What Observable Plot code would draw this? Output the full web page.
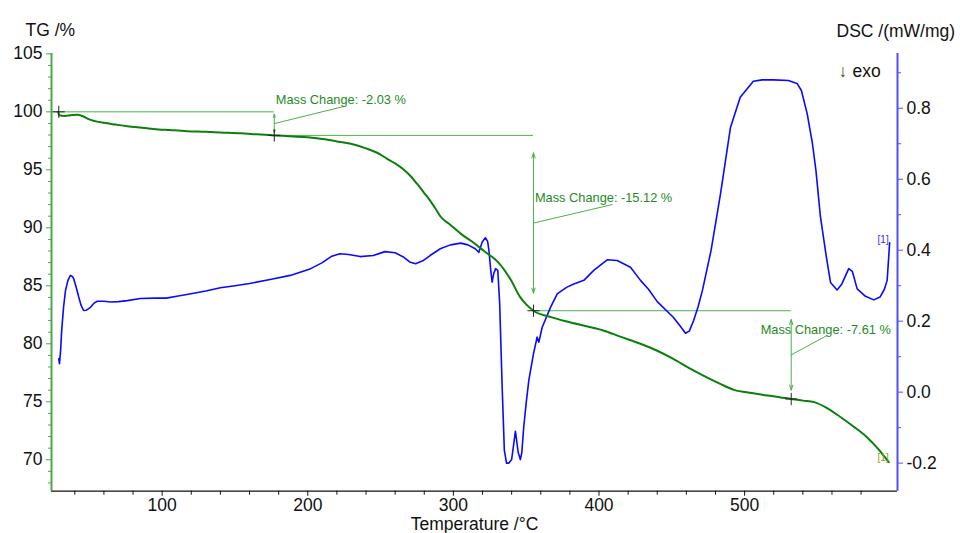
<!DOCTYPE html>
<html>
<head>
<meta charset="utf-8">
<script src="https://cdn.jsdelivr.net/npm/d3@7"></script>
<script src="https://cdn.jsdelivr.net/npm/@observablehq/plot@0.6"></script>
<style>
  html, body { margin: 0; padding: 0; background: #fff; }
  #chart svg { display: block; }
</style>
</head>
<body>
<div id="chart"></div>
<script>
// ---------- DATA ----------
// TG curve (temperature °C, mass %)
const tgT = [28.5, 29.5, 33, 38, 42, 46, 49, 54, 60, 68, 76, 85, 94, 105, 117, 130, 140, 154, 165, 177, 190, 200, 210, 220, 229.6, 240, 248, 254.5, 260, 266, 271, 275, 280, 284, 288, 291, 298, 305, 313, 321, 331, 339.5, 346, 350, 355, 367, 380, 403, 415, 428.5, 440, 451, 462, 474, 484, 492.8, 505, 515.8, 524, 532, 540, 547.8, 556, 566, 575, 584, 592, 599];
const tgV = [100.0, 99.7, 99.65, 99.72, 99.74, 99.6, 99.4, 99.2, 99.05, 98.9, 98.76, 98.64, 98.53, 98.43, 98.33, 98.28, 98.22, 98.15, 98.06, 97.97, 97.88, 97.8, 97.65, 97.45, 97.24, 96.85, 96.45, 95.95, 95.55, 95.0, 94.4, 93.8, 93.0, 92.35, 91.6, 91.0, 90.25, 89.5, 88.8, 88.0, 87.0, 85.5, 84.0, 83.4, 82.85, 82.3, 81.85, 81.15, 80.6, 80.0, 79.4, 78.7, 77.9, 77.1, 76.5, 76.03, 75.75, 75.54, 75.4, 75.24, 75.1, 74.97, 74.5, 73.67, 72.85, 71.95, 70.9, 69.8];

// DSC curve (temperature °C, mW/mg)
const dscT = [29, 29.5, 30.3, 31, 32.3, 33.6, 35.3, 37, 38.3, 39.3, 41, 42.7, 44.3, 46, 48, 50.8, 53, 55.4, 60, 64.5, 70, 76, 85, 95, 103, 110, 117, 130, 140, 150, 160, 175, 188, 202, 210, 216, 222, 228, 236, 245, 253, 260, 266, 270, 274, 279, 284, 291, 298, 305, 310, 315, 317.5, 319.8, 322, 323.5, 324.4, 325.5, 326.6, 327.7, 329, 330.5, 331.8, 333.5, 335, 336.5, 338, 340, 341, 342.6, 344.5, 346, 347, 348.3, 350, 351.8, 355, 357.5, 358.7, 361, 366.7, 371.3, 378, 382.7, 389.6, 396.4, 405.6, 412.5, 421.6, 428.5, 434, 440, 451, 456, 459.4, 462, 465, 468, 471, 477, 483.5, 490.3, 497, 506, 512, 520, 530, 536, 539, 543, 546.6, 549, 552, 556, 559, 563.5, 566.8, 571.5, 574, 577.3, 583, 588.7, 593, 596, 597.9, 599.6];
const dscV = [0.094, 0.08, 0.12, 0.174, 0.24, 0.286, 0.315, 0.329, 0.326, 0.319, 0.295, 0.268, 0.245, 0.23, 0.231, 0.239, 0.25, 0.256, 0.256, 0.254, 0.255, 0.258, 0.264, 0.265, 0.265, 0.27, 0.275, 0.285, 0.294, 0.3, 0.306, 0.318, 0.329, 0.348, 0.365, 0.382, 0.39, 0.388, 0.382, 0.385, 0.396, 0.393, 0.38, 0.367, 0.362, 0.37, 0.385, 0.404, 0.415, 0.42, 0.415, 0.404, 0.394, 0.423, 0.435, 0.425, 0.4, 0.35, 0.31, 0.334, 0.348, 0.343, 0.249, 0.014, -0.164, -0.2, -0.2, -0.19, -0.16, -0.11, -0.17, -0.19, -0.17, -0.099, -0.03, 0.033, 0.108, 0.155, 0.141, 0.183, 0.239, 0.277, 0.296, 0.305, 0.315, 0.343, 0.373, 0.371, 0.352, 0.315, 0.29, 0.255, 0.211, 0.185, 0.166, 0.172, 0.202, 0.24, 0.286, 0.4, 0.56, 0.746, 0.831, 0.876, 0.88, 0.88, 0.878, 0.87, 0.85, 0.784, 0.7, 0.624, 0.497, 0.385, 0.309, 0.288, 0.305, 0.348, 0.34, 0.291, 0.27, 0.26, 0.268, 0.29, 0.315, 0.421];

// Axis ticks
const xMajor = [100, 200, 300, 400, 500];
const xMinor = [40, 60, 80, 120, 140, 160, 180, 220, 240, 260, 280, 320, 340, 360, 380, 420, 440, 460, 480, 520, 540, 560, 580];
const tgMajor = [70, 75, 80, 85, 90, 95, 100, 105];
const tgMinor = [68, 69, 71, 72, 73, 74, 76, 77, 78, 79, 81, 82, 83, 84, 86, 87, 88, 89, 91, 92, 93, 94, 96, 97, 98, 99, 101, 102, 103, 104];
const dscMajor = [-0.2, 0.0, 0.2, 0.4, 0.6, 0.8];
const dscMinor = [-0.1, 0.1, 0.3, 0.5, 0.7, 0.9];

// Mass change annotations
const mcLabels = ["Mass Change: -2.03 %", "Mass Change: -15.12 %", "Mass Change: -7.61 %"];
const mcStartT = [24, 177, 355];      // horizontal reference line start
const mcEndT = [177, 355, 532];       // step evaluation temperature
const mcTop = [100, 97.97, 82.85];
const mcBottom = [97.97, 82.85, 75.24];
const mcTextT = [178, 356, 511];
const mcTextTG = [101.06, 92.61, 81.21];
const mcLeaderT = [224.6, 409.3, 556.7];
const mcLeaderTG = [100.46, 92.01, 80.72];
const crossT = [29, 177, 355, 532];
const crossTG = [100, 97.97, 82.85, 75.24];

// Curve end labels
const endLabels = ["[1]", "[1]"];
const endLabelT = [591.3, 591.3];
const endLabelTG = [88.99, 70.2];

// ---------- SCALES / MAPPING ----------
const tgDomain = [67.29, 105.03];
const xDomain = [24, 605];
// DSC is drawn on the TG scale through a linear mapping (dual axis)
const DSC0 = 75.83, DSC_PER = 30.6;
const dscToTG = v => DSC0 + v * DSC_PER;
const tgToDsc = v => (v - DSC0) / DSC_PER;

const green = "#0b7f0b";
const axisGreen = "#4aa84a";
const annGreen = "#4cb04c";
const textGreen = "#1d8c1d";
const blue = "#0a0aff";
const axisBlue = "#5050ff";
const font = "'Liberation Sans', Arial, sans-serif";
const tickFont = 17.5;
const titleFont = 17.5;

const idx3 = d3.range(3);
const fmtDsc = v => { const r = Math.round(v * 10) / 10; return (Math.abs(r) < 1e-9 ? 0 : r).toFixed(1); };

const chart = Plot.plot({
  width: 960,
  height: 533,
  marginLeft: 51,
  marginRight: 63,
  marginTop: 53,
  marginBottom: 42.3,
  style: { fontFamily: font, background: "#fff", color: "#111" },
  x: { domain: xDomain },
  y: { domain: tgDomain },
  marks: [
    // axes lines
    Plot.ruleY([tgDomain[0]], { stroke: "#111", strokeWidth: 1.3 }),
    Plot.ruleX([xDomain[0]], { stroke: axisGreen, strokeWidth: 2 }),
    Plot.ruleX([xDomain[1]], { stroke: axisBlue, strokeWidth: 2 }),

    // x axis
    Plot.axisX(xMajor, { anchor: "bottom", tickSize: 5, tickPadding: 2, fontSize: tickFont, stroke: "#111", fill: "#111", label: null, tickFormat: d => String(d) }),
    Plot.axisX(xMinor, { anchor: "bottom", tickSize: 4, stroke: "#111", fill: "none", label: null, tickFormat: () => "" }),

    // left TG axis
    Plot.axisY(tgMajor, { anchor: "left", tickSize: 5, tickPadding: 4, fontSize: tickFont, stroke: axisGreen, fill: "#111", label: null, tickFormat: d => String(d) }),
    Plot.axisY(tgMinor, { anchor: "left", tickSize: 3, stroke: axisGreen, fill: "none", label: null, tickFormat: () => "" }),

    // right DSC axis
    Plot.axisY(dscMajor.map(dscToTG), { anchor: "right", tickSize: 5, tickPadding: 4, fontSize: tickFont, stroke: axisBlue, fill: "#111", label: null, tickFormat: d => fmtDsc(tgToDsc(d)) }),
    Plot.axisY(dscMinor.map(dscToTG), { anchor: "right", tickSize: 3, stroke: axisBlue, fill: "none", label: null, tickFormat: () => "" }),

    // annotation reference lines
    Plot.ruleY(idx3, { y: i => mcTop[i], x1: i => mcStartT[i], x2: i => mcEndT[i], stroke: annGreen, strokeWidth: 1 }),
    Plot.arrow(idx3, { x1: i => mcEndT[i], y1: i => (mcTop[i] + mcBottom[i]) / 2, x2: i => mcEndT[i], y2: i => mcTop[i] - 0.1 * (mcTop[i] - mcBottom[i]), stroke: annGreen, strokeWidth: 1, headLength: 8, headAngle: 36 }),
    Plot.arrow(idx3, { x1: i => mcEndT[i], y1: i => (mcTop[i] + mcBottom[i]) / 2, x2: i => mcEndT[i], y2: i => mcBottom[i] + 0.1 * (mcTop[i] - mcBottom[i]), stroke: annGreen, strokeWidth: 1, headLength: 8, headAngle: 36 }),
    Plot.link(idx3, { x1: i => mcEndT[i], y1: i => (mcTop[i] + mcBottom[i]) / 2, x2: i => mcLeaderT[i], y2: i => mcLeaderTG[i], stroke: annGreen, strokeWidth: 1 }),

    // curves
    Plot.line(dscT, { x: d => d, y: (d, i) => dscToTG(dscV[i]), stroke: blue, strokeWidth: 1.6 }),
    Plot.line(tgT, { x: d => d, y: (d, i) => tgV[i], stroke: green, strokeWidth: 2, curve: "monotone-x" }),

    // crosses
    Plot.dot(crossT, { x: d => d, y: (d, i) => crossTG[i], symbol: "plus", r: 4, stroke: "#222", strokeWidth: 1 }),

    // annotation texts
    Plot.text(idx3, { x: i => mcTextT[i], y: i => mcTextTG[i], text: i => mcLabels[i], textAnchor: "start", fill: textGreen, fontSize: 12.8 }),

    // curve end labels
    Plot.text([0, 1], { x: i => endLabelT[i], y: i => endLabelTG[i], text: i => endLabels[i], textAnchor: "start", fill: (i) => i === 0 ? "#3030ff" : "#8a9a20", fontSize: 10 }),

    // titles
    Plot.text(["TG /%"], { frameAnchor: "top-left", dx: -26, dy: -30, textAnchor: "start", fontSize: titleFont, fill: "#111" }),
    Plot.text(["DSC /(mW/mg)"], { frameAnchor: "top-right", dx: -61, dy: -29, textAnchor: "start", fontSize: titleFont, fill: "#111" }),
    Plot.text(["↓"], { frameAnchor: "top-right", dx: -59, dy: 11, textAnchor: "start", fontSize: titleFont, fill: "#5a3a1a" }),
    Plot.text(["exo"], { frameAnchor: "top-right", dx: -45, dy: 11, textAnchor: "start", fontSize: titleFont, fill: "#111" }),
    Plot.text(["Temperature /°C"], { frameAnchor: "bottom", dx: 0, dy: 38.5, fontSize: titleFont, fill: "#111" })
  ]
});

document.getElementById("chart").appendChild(chart);
</script>
</body>
</html>
